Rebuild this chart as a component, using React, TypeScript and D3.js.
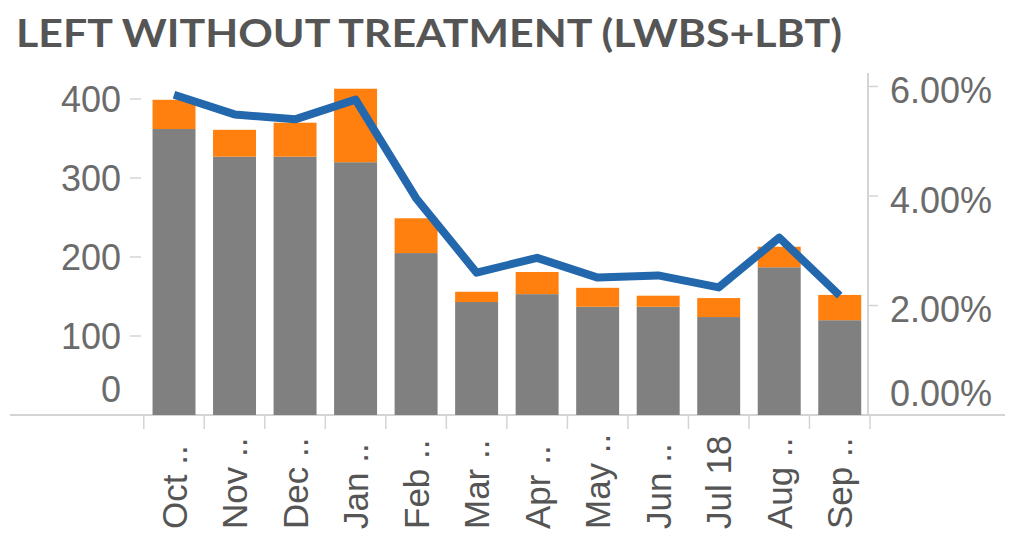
import React from "react";
import * as d3 from "d3";

const months = ["Oct ..", "Nov ..", "Dec ..", "Jan ..", "Feb ..", "Mar ..", "Apr ..", "May ..", "Jun ..", "Jul 18", "Aug ..", "Sep .."];
const lwbs = [362, 327, 327, 320, 205, 143, 153, 137, 137, 124, 187, 120];
const lbt = [37, 34, 43, 93, 44, 13, 28, 24, 14, 24, 26, 32];
const rate = [5.85, 5.49, 5.4, 5.76, 3.96, 2.6, 2.87, 2.51, 2.55, 2.33, 3.24, 2.18];
const leftTicks = [0, 100, 200, 300, 400];
const rightTicks = [0, 2, 4, 6];

const W = 1013;
const H = 537;
const plotLeft = 143.75;
const plotRight = 870;
const plotBottom = 415;

export default function App() {
  const x = d3.scaleBand<string>().domain(months).range([plotLeft, plotRight]).paddingInner(0.29).paddingOuter(0.145);
  const yL = d3.scaleLinear().domain([0, 400]).range([plotBottom, 99]);
  const yR = d3.scaleLinear().domain([0, 6]).range([plotBottom, 86.5]);
  const step = x.step();
  const line = d3
    .line<number>()
    .x((_, i) => (x(months[i]) as number) + x.bandwidth() / 2)
    .y((d) => yR(d));
  const axisColor = "#d4d4d4";
  const labelColor = "#6b6b6b";
  const font = "'Liberation Sans', Arial, sans-serif";

  return (
    <svg width={W} height={H} style={{ position: "absolute", left: 0, top: 0, background: "#fff" }}>
      <text x={16} y={47} fontFamily="Lato, 'Open Sans', sans-serif" fontWeight={700} fontSize={38} fill="#555" textLength={826} lengthAdjust="spacingAndGlyphs">
        LEFT WITHOUT TREATMENT (LWBS+LBT)
      </text>
      {/* bottom axis line */}
      <line x1={10} x2={1005} y1={plotBottom} y2={plotBottom} stroke={axisColor} strokeWidth={2} />
      {/* right axis line */}
      <line x1={plotRight - 2} x2={plotRight - 2} y1={73} y2={plotBottom} stroke={axisColor} strokeWidth={2} />
      {/* x ticks at band boundaries */}
      {d3.range(months.length + 1).map((i) => (
        <line key={"xt" + i} x1={plotLeft + i * step} x2={plotLeft + i * step} y1={plotBottom} y2={plotBottom + 14} stroke={axisColor} strokeWidth={1.5} />
      ))}
      {/* left ticks */}
      {leftTicks.map((t) => (
        <g key={"l" + t}>
          {t > 0 && <line x1={130} x2={141} y1={yL(t)} y2={yL(t)} stroke={axisColor} strokeWidth={1.5} />}
          <text x={121} y={Math.min(yL(t), 389)} dy="0.35em" textAnchor="end" fontFamily={font} fontSize={36} fill={labelColor}>
            {t}
          </text>
        </g>
      ))}
      {/* right ticks */}
      {rightTicks.map((t) => (
        <g key={"r" + t}>
          {t > 0 && <line x1={plotRight - 2} x2={plotRight + 8} y1={yR(t)} y2={yR(t)} stroke={axisColor} strokeWidth={1.5} />}
          <text x={890} y={Math.min(yR(t) + 4, 393)} dy="0.35em" textAnchor="start" fontFamily={font} fontSize={36} fill={labelColor}>
            {d3.format(".2f")(t) + "%"}
          </text>
        </g>
      ))}
      {/* bars */}
      {months.map((m, i) => (
        <g key={m}>
          <rect x={x(m)} width={x.bandwidth()} y={yL(lwbs[i])} height={yL(0) - yL(lwbs[i])} fill="#808080" />
          <rect x={x(m)} width={x.bandwidth()} y={yL(lwbs[i] + lbt[i])} height={yL(lwbs[i]) - yL(lwbs[i] + lbt[i])} fill="#ff800e" />
        </g>
      ))}
      {/* line */}
      <path d={line(rate) || ""} fill="none" stroke="#2368ad" strokeWidth={8} strokeLinejoin="round" strokeLinecap="butt" />
      {/* x labels */}
      {months.map((m) => {
        const cx = (x(m) as number) + x.bandwidth() / 2;
        return (
          <text key={"xl" + m} transform={`translate(${cx},529) rotate(-90)`} dy="0.36em" textAnchor="start" fontFamily={font} fontSize={35} fill="#555">
            {m}
          </text>
        );
      })}
    </svg>
  );
}
